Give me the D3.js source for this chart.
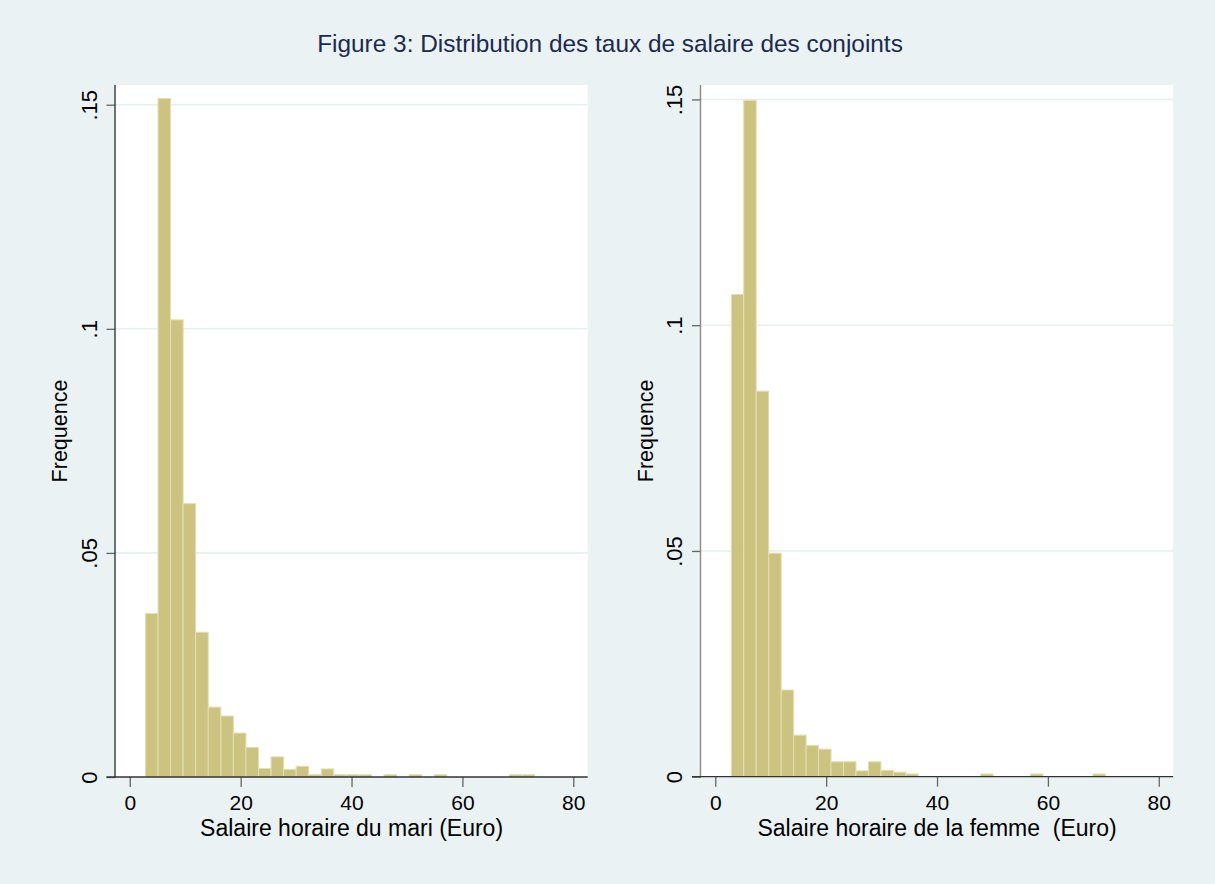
<!DOCTYPE html>
<html>
<head>
<meta charset="utf-8">
<script src="https://cdn.jsdelivr.net/npm/d3@7"></script>
<style>
  body { margin: 0; background: #eaf2f3; }
  svg { display: block; font-family: "Liberation Sans", Arial, sans-serif; }
</style>
</head>
<body>
<div id="chart"></div>
<script>
// histogram heights (density), one value per bin
var mariValues = [0.0365, 0.1514, 0.1020, 0.0610, 0.0323, 0.0156, 0.0136, 0.0098, 0.0066, 0.0019,
  0.0045, 0.0017, 0.0024, 0.0005, 0.0018, 0.0005, 0.0005, 0.0005, 0, 0.0005,
  0, 0.0005, 0, 0.0005, 0, 0, 0, 0, 0, 0.0005, 0.0005];
var mariStart = 2.83, mariWidth = 2.265;

var femmeValues = [0.1068, 0.1498, 0.0854, 0.0495, 0.0192, 0.0092, 0.0069, 0.0061, 0.0033, 0.0033,
  0.0013, 0.0033, 0.0014, 0.0010, 0.0006, 0, 0, 0, 0, 0,
  0.0006, 0, 0, 0, 0.0006, 0, 0, 0, 0, 0.0006];
var femmeStart = 2.89, femmeWidth = 2.249;

var xTicks = [0, 20, 40, 60, 80];
var yTicks = [0, 0.05, 0.1, 0.15];
var yTickLabels = ["0", ".05", ".1", ".15"];

var title = "Figure 3: Distribution des taux de salaire des conjoints";
var yTitle = "Frequence";

var W = 1215, H = 884;

var svg = d3.select("#chart").append("svg")
  .attr("width", W)
  .attr("height", H);

svg.append("rect")
  .attr("width", W)
  .attr("height", H)
  .attr("fill", "#eaf2f3");

svg.append("text")
  .attr("x", 610)
  .attr("y", 52)
  .attr("text-anchor", "middle")
  .style("font-size", "24.4px")
  .attr("fill", "#1c2a4d")
  .text(title);

function panel(opts) {
  var x = d3.scaleLinear().domain([-4.2, 82.6]).range([opts.x0, opts.x0 + 481.2]);
  var y = d3.scaleLinear().domain([0, opts.yMax]).range([opts.y0, 85]);
  var plotLeft = opts.x0 + 9;
  var plotRight = opts.x0 + 481.2;

  var g = svg.append("g");

  // white plot region
  g.append("rect")
    .attr("x", plotLeft)
    .attr("y", 85)
    .attr("width", plotRight - plotLeft)
    .attr("height", opts.y0 - 85)
    .attr("fill", "#ffffff");

  // grid lines
  g.selectAll(".grid")
    .data(yTicks.filter(function(d) { return d > 0; }))
    .enter()
    .append("line")
    .attr("x1", plotLeft)
    .attr("x2", plotRight)
    .attr("y1", function(d) { return y(d); })
    .attr("y2", function(d) { return y(d); })
    .attr("stroke", "#e6eff1")
    .attr("stroke-width", 1.6);

  // bars
  var bins = opts.values.map(function(v, i) {
    return { x0: opts.start + i * opts.width, x1: opts.start + (i + 1) * opts.width, v: v };
  }).filter(function(d) { return d.v > 0; });

  g.selectAll(".bar")
    .data(bins)
    .enter()
    .append("rect")
    .attr("x", function(d) { return x(d.x0); })
    .attr("width", function(d) { return x(d.x1) - x(d.x0); })
    .attr("y", function(d) { return y(d.v); })
    .attr("height", function(d) { return y(0) - y(d.v); })
    .attr("fill", "#cbc37f")
    .attr("stroke", "#e4dfb3")
    .attr("stroke-width", 1);

  // y axis
  var yAxis = g.append("g")
    .attr("transform", "translate(" + plotLeft + ",0)")
    .call(d3.axisLeft(y)
      .tickValues(yTicks)
      .tickSize(9)
      .tickSizeOuter(0)
      .tickFormat(function(d, i) { return yTickLabels[i]; }));
  yAxis.select(".domain").remove();
  yAxis.selectAll(".tick line").attr("stroke", "#666").attr("stroke-width", 1.3);
  yAxis.selectAll(".tick text")
    .attr("transform", "rotate(-90)")
    .attr("x", 0)
    .attr("y", -19)
    .attr("dy", null)
    .attr("text-anchor", "middle")
    .attr("fill", "#000")
    .style("font-size", "22px")
    .style("font-family", "'Liberation Sans', Arial, sans-serif");

  g.append("line")
    .attr("x1", plotLeft - 0.5)
    .attr("x2", plotLeft - 0.5)
    .attr("y1", 85)
    .attr("y2", opts.y0)
    .attr("stroke", opts.yAxisColor)
    .attr("stroke-width", 1.4);

  // x axis
  var xAxis = g.append("g")
    .attr("transform", "translate(0," + opts.y0 + ")")
    .call(d3.axisBottom(x)
      .tickValues(xTicks)
      .tickSize(10)
      .tickSizeOuter(0));
  xAxis.select(".domain").remove();
  xAxis.selectAll(".tick line").attr("stroke", "#666").attr("stroke-width", 1.3);
  xAxis.selectAll(".tick text")
    .attr("y", 33)
    .attr("dy", null)
    .attr("fill", "#000")
    .style("font-size", "21px")
    .style("font-family", "'Liberation Sans', Arial, sans-serif");

  g.append("line")
    .attr("x1", opts.x0)
    .attr("x2", plotRight)
    .attr("y1", opts.y0)
    .attr("y2", opts.y0)
    .attr("stroke", "#333")
    .attr("stroke-width", 1.3);

  // axis titles
  g.append("text")
    .attr("x", (plotLeft + plotRight) / 2)
    .attr("y", opts.y0 + 59)
    .attr("text-anchor", "middle")
    .style("font-size", "23px")
    .style("white-space", "pre")
    .attr("fill", "#000")
    .text(opts.xTitle);

  g.append("text")
    .attr("transform", "translate(" + (plotLeft - 48.5) + "," + ((85 + opts.y0) / 2) + ") rotate(-90)")
    .attr("text-anchor", "middle")
    .style("font-size", "21.5px")
    .attr("fill", "#000")
    .text(yTitle);
}

panel({
  x0: 106.5, y0: 777, yMax: 0.1544,
  values: mariValues, start: mariStart, width: mariWidth,
  xTitle: "Salaire horaire du mari (Euro)", yAxisColor: "#3a3a3a"
});

panel({
  x0: 692, y0: 776.7, yMax: 0.1532,
  values: femmeValues, start: femmeStart, width: femmeWidth,
  xTitle: "Salaire horaire de la femme  (Euro)", yAxisColor: "#8a8a8a"
});
</script>
</body>
</html>
